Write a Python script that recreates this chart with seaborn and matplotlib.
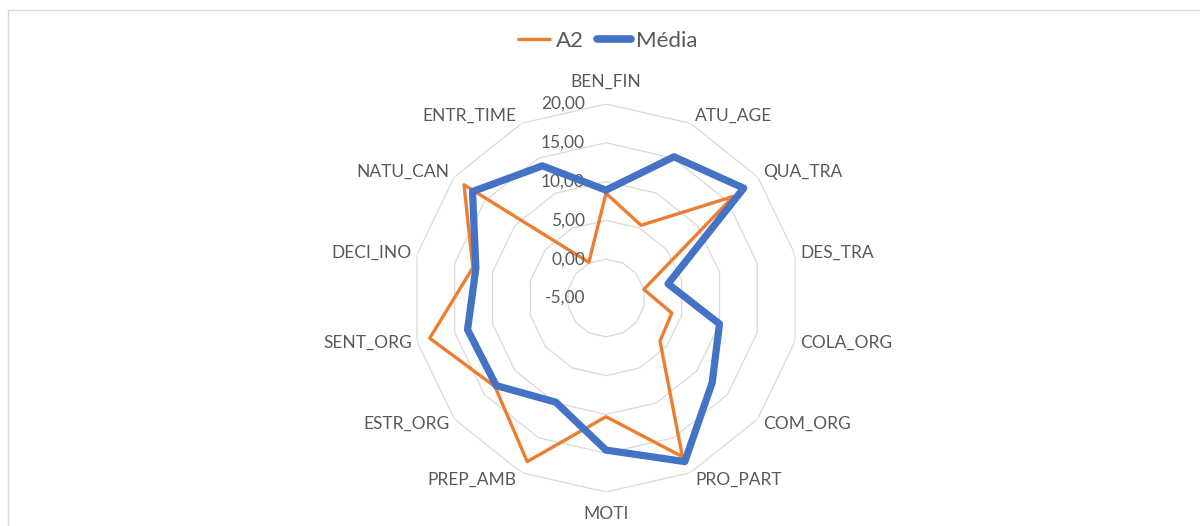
import numpy as np
import matplotlib
matplotlib.use("Agg")
import matplotlib.pyplot as plt
from matplotlib.lines import Line2D
import seaborn as sns

# Radar data: one value per competence dimension
categories = ["BEN_FIN", "ATU_AGE", "QUA_TRA", "DES_TRA", "COLA_ORG", "COM_ORG",
              "PRO_PART", "MOTI", "PREP_AMB", "ESTR_ORG", "SENT_ORG", "DECI_INO",
              "NATU_CAN", "ENTR_TIME"]
a2 = [8.5, 5.4, 16.0, 0.0, 3.7, 3.9, 17.7, 10.3, 18.4, 13.3, 18.3, 12.6, 18.4, 0.1]
media = [8.9, 15.2, 17.7, 3.2, 10.0, 12.5, 18.4, 14.6, 9.9, 13.1, 13.3, 12.2, 17.0, 13.9]
r_ticks = [-5, 0, 5, 10, 15, 20]
tick_labels = ["-5,00", "0,00", "5,00", "10,00", "15,00", "20,00"]
series_names = ["A2", "Média"]

ORANGE = "#ED7D31"
BLUE = "#4472C4"
GRID = "#D9D9D9"
TEXT = "#595959"

sns.set_theme(style="white")
plt.rcParams["font.family"] = ["Lato", "DejaVu Sans"]

W, H, DPI = 1200, 526, 100
fig = plt.figure(figsize=(W / DPI, H / DPI), dpi=DPI)
fig.patch.set_facecolor("white")

# polar axes centred on the chart area
cx, cy, rad = 606, 298, 194
ax = fig.add_axes([(cx - rad) / W, (H - cy - rad) / H, 2 * rad / W, 2 * rad / H],
                  projection="polar")
ax.set_theta_zero_location("N")
ax.set_theta_direction(-1)
ax.set_ylim(r_ticks[0], r_ticks[-1])
ax.grid(False)
ax.set_xticks([])
ax.set_yticks([])
ax.spines["polar"].set_visible(False)
ax.set_facecolor("none")

n = len(categories)
theta = np.linspace(0, 2 * np.pi, n, endpoint=False)
theta_c = np.append(theta, theta[0])

# polygonal gridlines
for t in r_ticks[1:]:
    ax.plot(theta_c, [t] * (n + 1), color=GRID, lw=0.9, zorder=1)

# series
a2_c = np.append(a2, a2[0])
media_c = np.append(media, media[0])
sns.lineplot(x=theta_c, y=a2_c, ax=ax, sort=False, estimator=None, color=ORANGE,
             lw=2.4, zorder=3, legend=False)
sns.lineplot(x=theta_c, y=media_c, ax=ax, sort=False, estimator=None, color=BLUE,
             lw=5.2, zorder=4, legend=False)
for ln in ax.get_lines()[-2:]:
    ln.set_solid_joinstyle("round")
    ln.set_solid_capstyle("round")
ax.set_xlabel("")
ax.set_ylabel("")
ax.set_ylim(r_ticks[0], r_ticks[-1])

# radial value labels along the vertical axis
for t, lab in zip(r_ticks, tick_labels):
    ax.annotate(lab, xy=(0, t), xytext=(-21, 0), textcoords="offset pixels",
                ha="right", va="center", fontsize=12.5, color=TEXT,
                annotation_clip=False)

# category labels around the outer ring
for ang, lab in zip(theta, categories):
    s, c = np.sin(ang), np.cos(ang)
    if abs(s) < 0.1:
        ha = "center"
        off = (0, 22 * c)
    else:
        ha = "left" if s > 0 else "right"
        off = (5 * np.sign(s), 8 * c)
    ax.annotate(lab, xy=(ang, r_ticks[-1]), xytext=off, textcoords="offset pixels",
                ha=ha, va="center", fontsize=12.5, color=TEXT,
                annotation_clip=False)

# legend
handles = [Line2D([], [], color=ORANGE, lw=2.4, solid_capstyle="butt"),
           Line2D([], [], color=BLUE, lw=5.5, solid_capstyle="round")]
fig.legend(handles, series_names, loc="center", bbox_to_anchor=(607 / W, 1 - 41 / H),
           ncol=2, frameon=False, fontsize=16, handlelength=1.55, handletextpad=0.2,
           columnspacing=0.6, labelcolor=TEXT)

# chart area border (top and left edges)
fig.add_artist(Line2D([8 / W, 1], [1 - 10 / H, 1 - 10 / H], transform=fig.transFigure,
                      color=GRID, lw=1))
fig.add_artist(Line2D([8 / W, 8 / W], [0, 1 - 10 / H], transform=fig.transFigure,
                      color=GRID, lw=1))

fig.savefig("out.png", dpi=DPI)
